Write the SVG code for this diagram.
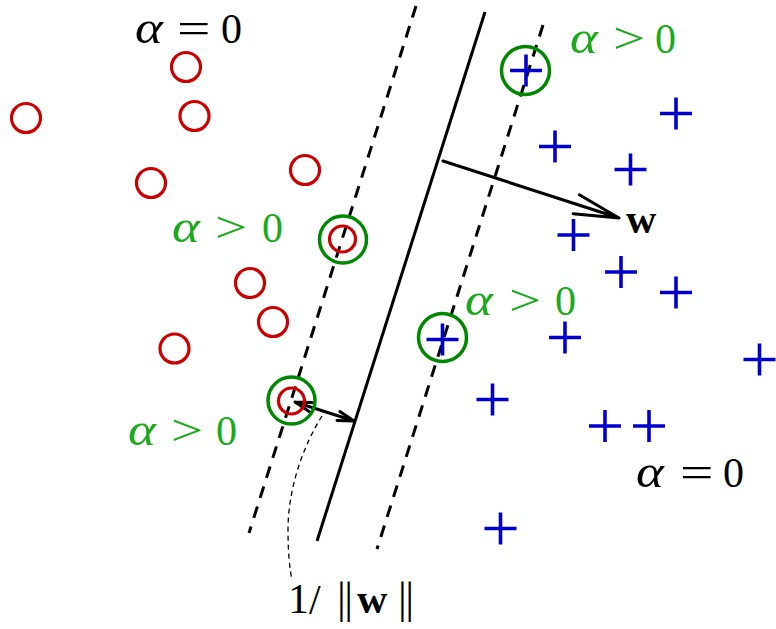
<svg xmlns="http://www.w3.org/2000/svg" width="776" height="629" viewBox="0 0 776 629">
<style>
.m{font-family:"Liberation Serif","DejaVu Serif",serif;font-size:42px}
.i{font-style:italic;font-size:46px}
.op{font-size:44px}
.bar{font-size:44px;letter-spacing:-1.5px}
.blk{fill:#000}
.grn{fill:#1aaa1a}
.neg{fill:none;stroke:#cc0000;stroke-width:3.2}
.sv{fill:none;stroke:#008800;stroke-width:3.5}
.pos{stroke:#0000cc;stroke-width:3.6;fill:none}
.solid{stroke:#000;stroke-width:3;fill:none}
.dash{stroke:#000;stroke-width:3;fill:none;stroke-dasharray:12 9}
.thin{stroke:#000;stroke-width:1.3;fill:none;stroke-dasharray:5 4}
.arr{stroke:#000;stroke-width:3;fill:none;stroke-linecap:round;stroke-linejoin:round}
</style>
<rect width="776" height="629" fill="#fff"/>
<defs>
<path id="plus" d="M-16,0H16M0,-16V16"/>
</defs>
<g id="connectors">
<line class="solid" x1="485" y1="12" x2="317" y2="541"/>
<line class="dash" x1="416" y1="6" x2="249" y2="533"/>
<line class="dash" x1="543" y1="25" x2="377" y2="549"/>
<path class="arr" d="M443,161L619,218M579.3,194.7L619,218L573.2,213.7"/>
<path class="arr" d="M295,402L354,421M339.9,411.5L354,421L337,420.4M309.1,411.5L295,402L312,402.6"/>
<path class="thin" d="M322,416C302,448 288,490 288,530C288,555 290,570 292,580"/>
</g>
<g id="negatives">
<circle class="neg" cx="186" cy="67" r="14.5"/>
<circle class="neg" cx="26" cy="118" r="14.5"/>
<circle class="neg" cx="194.5" cy="116" r="14.5"/>
<circle class="neg" cx="151" cy="183" r="14.5"/>
<circle class="neg" cx="305" cy="170" r="14.5"/>
<circle class="neg" cx="250" cy="283" r="14.5"/>
<circle class="neg" cx="273" cy="322" r="14.5"/>
<circle class="neg" cx="174.5" cy="348.5" r="14.5"/>
<circle class="neg" cx="342.5" cy="239" r="13"/>
<circle class="sv" cx="343" cy="239.5" r="23.5"/>
<circle class="neg" cx="291.5" cy="401" r="13"/>
<circle class="sv" cx="291.5" cy="400.5" r="23.5"/>
</g>
<g id="positives" class="pos">
<use href="#plus" x="526" y="70.5"/>
<circle class="sv" cx="525.5" cy="70.5" r="24"/>
<use href="#plus" x="555" y="146.5"/>
<use href="#plus" x="676" y="113.5"/>
<use href="#plus" x="630.5" y="169.5"/>
<use href="#plus" x="573.5" y="235"/>
<use href="#plus" x="621" y="272"/>
<use href="#plus" x="676" y="292.5"/>
<use href="#plus" x="442.5" y="339.5"/>
<circle class="sv" cx="442.5" cy="337.5" r="24"/>
<use href="#plus" x="565" y="337.5"/>
<use href="#plus" x="759.5" y="359.5"/>
<use href="#plus" x="492.5" y="399.5"/>
<use href="#plus" x="605" y="426"/>
<use href="#plus" x="649" y="426"/>
<use href="#plus" x="500.5" y="528.5"/>
</g>
<g id="labels" class="m">
<g id="alpha0-top" class="blk">
<text class="m i" transform="translate(135,43) scale(1.15,1)">α</text>
<text class="m op" transform="translate(177,43) scale(1.35,1)">=</text>
<text class="m" x="221" y="43">0</text>
</g>
<g id="alpha-pos-top" class="grn">
<text class="m i" transform="translate(570,53) scale(1.15,1)">α</text>
<text class="m op" transform="translate(613,53) scale(1.3,1)">&gt;</text>
<text class="m" x="655" y="53">0</text>
</g>
<g id="alpha-pos-midleft" class="grn">
<text class="m i" transform="translate(172,242) scale(1.15,1)">α</text>
<text class="m op" transform="translate(215,242) scale(1.3,1)">&gt;</text>
<text class="m" x="262" y="242">0</text>
</g>
<g id="alpha-pos-center" class="grn">
<text class="m i" transform="translate(465,315) scale(1.15,1)">α</text>
<text class="m op" transform="translate(509,315) scale(1.3,1)">&gt;</text>
<text class="m" x="555" y="315">0</text>
</g>
<g id="alpha-pos-bottomleft" class="grn">
<text class="m i" transform="translate(128,445) scale(1.15,1)">α</text>
<text class="m op" transform="translate(171,445) scale(1.3,1)">&gt;</text>
<text class="m" x="216" y="445">0</text>
</g>
<g id="alpha0-bottomright" class="blk">
<text class="m i" transform="translate(636,487) scale(1.15,1)">α</text>
<text class="m op" transform="translate(680,487) scale(1.35,1)">=</text>
<text class="m" x="723" y="487">0</text>
</g>
<text id="w-label" class="m blk" x="626" y="233" font-weight="bold">w</text>
<g id="margin-label" class="blk">
<text class="m" x="288" y="613">1</text>
<text class="m" x="309" y="614" font-size="52">/</text>
<text class="m bar" x="337" y="613">||</text>
<text class="m" x="357" y="613" font-weight="bold">w</text>
<text class="m bar" x="398" y="613">||</text>
</g>
</g>
</svg>
